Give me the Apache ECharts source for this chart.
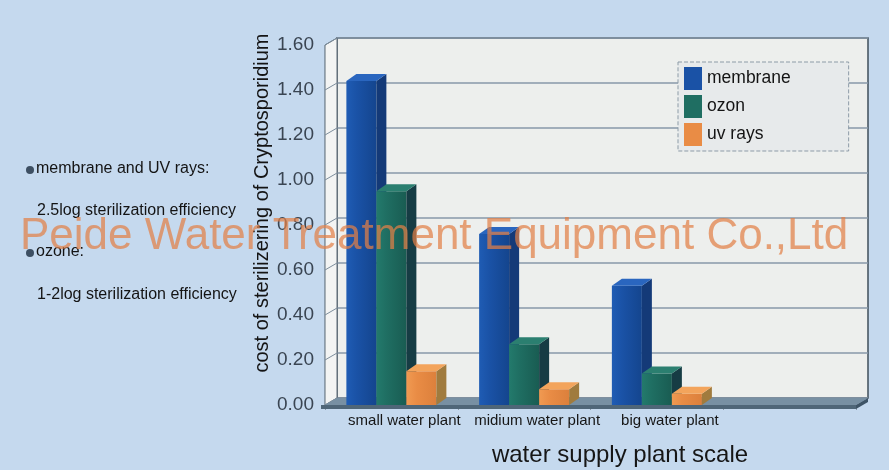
<!DOCTYPE html>
<html>
<head>
<meta charset="utf-8">
<script src="https://cdn.jsdelivr.net/npm/echarts@6/dist/echarts.min.js"></script>
<style>
  html, body { margin: 0; padding: 0; background: #c5d9ee; }
  #main { width: 889px; height: 470px; }
</style>
</head>
<body>
<div id="main"></div>
<script>
// chart data
var categories = ['small water plant', 'midium water plant', 'big water plant', ''];
var membrane = [1.44, 0.76, 0.53];
var ozon = [0.95, 0.27, 0.14];
var uvRays = [0.15, 0.07, 0.05];
var yTicks = [0, 0.2, 0.4, 0.6, 0.8, 1.0, 1.2, 1.4, 1.6];
var notes = ['membrane and UV rays:', '2.5log sterilization efficiency', 'ozone:', '1-2log sterilization efficiency'];

var DX = 12, DY = -7;   // depth of the back wall
var BDX = 10, BDY = -7; // depth of one bar
var FONT = 'Liberation Sans, Arial';

var chart = echarts.init(document.getElementById('main'));

function toPairs(arr) {
  return arr.map(function (v, i) { return [i, v]; });
}

// one 3d bar: front face, side face, top face
function barRenderer(slot, front, side, topc) {
  return function (params, api) {
    var c = api.value(0), v = api.value(1);
    var base = api.coord([c, 0]);
    var top = api.coord([c, v]);
    var band = api.size([1, 0])[0];
    var bw = band * 0.226;
    var x = base[0] - 1.5 * bw + slot * bw;
    var yT = top[1], yB = base[1];
    return {
      type: 'group',
      children: [
        {
          type: 'rect',
          shape: { x: x, y: yT, width: bw, height: yB - yT },
          style: {
            fill: new echarts.graphic.LinearGradient(0, 0, 1, 0, [
              { offset: 0, color: front[0] },
              { offset: 0.35, color: front[1] },
              { offset: 1, color: front[2] }
            ])
          }
        },
        {
          type: 'polygon',
          shape: { points: [[x + bw, yT], [x + bw + BDX, yT + BDY], [x + bw + BDX, yB + BDY], [x + bw, yB]] },
          style: { fill: side }
        },
        {
          type: 'polygon',
          shape: { points: [[x, yT], [x + bw, yT], [x + bw + BDX, yT + BDY], [x + BDX, yT + BDY]] },
          style: { fill: topc }
        }
      ]
    };
  };
}

// floor, left wall and the little side grid lines
function frameRenderer(params, api) {
  var cs = params.coordSys;
  var x0 = cs.x, x1 = cs.x + cs.width, yT = cs.y, yB = cs.y + cs.height;
  var kids = [];
  kids.push({
    type: 'polygon',
    shape: { points: [[x0, yT], [x0 + DX, yT + DY], [x0 + DX, yB + DY], [x0, yB]] },
    style: { fill: '#f3f4f3', stroke: '#5d6b76', lineWidth: 1 }
  });
  yTicks.forEach(function (t) {
    var p = api.coord([0, t]);
    kids.push({
      type: 'line',
      shape: { x1: x0, y1: p[1], x2: x0 + DX, y2: p[1] + DY },
      style: { stroke: '#7d8e9c', lineWidth: 1 }
    });
  });
  kids.push({
    type: 'polygon',
    shape: { points: [[x0, yB], [x1, yB], [x1 + DX, yB + DY], [x0 + DX, yB + DY]] },
    style: { fill: '#7890a3' }
  });
  kids.push({
    type: 'rect',
    shape: { x: x0 - 4, y: yB, width: x1 - x0 + 4, height: 4 },
    style: { fill: '#4f6678' }
  });
  kids.push({
    type: 'polygon',
    shape: { points: [[x1, yB], [x1 + DX, yB + DY], [x1 + DX, yB + DY + 4], [x1, yB + 4]] },
    style: { fill: '#3e5466' }
  });
  return { type: 'group', children: kids };
}

var graphics = [];
notes.forEach(function (t, i) {
  var y = [170, 212, 253, 296][i];
  var bullet = (i % 2 === 0);
  if (bullet) {
    graphics.push({
      type: 'circle', shape: { cx: 30, cy: y, r: 4 },
      style: { fill: '#3d4f62' }
    });
  }
  graphics.push({
    type: 'text', left: bullet ? 36 : 37, top: y - 9,
    style: { text: t, fontSize: 16, fontFamily: FONT, fill: '#141414' }
  });
});
graphics.push({
  type: 'text', x: 262, y: 203, rotation: Math.PI / 2,
  style: {
    text: 'cost of sterilizering of Cryptosporidium', fontSize: 20,
    fontFamily: FONT, fill: '#141414', align: 'center', verticalAlign: 'middle'
  }
});
graphics.push({
  type: 'text', x: 620, y: 455,
  style: {
    text: 'water supply plant scale', fontSize: 24,
    fontFamily: FONT, fill: '#161616', align: 'center', verticalAlign: 'middle'
  }
});
graphics.push({
  type: 'text', x: 20, y: 237, z: 100,
  style: {
    text: 'Peide Water Treatment Equipment Co.,Ltd', fontSize: 44,
    fontFamily: FONT, fill: 'rgba(226,128,70,0.72)', verticalAlign: 'middle'
  }
});

var option = {
  backgroundColor: '#c5d9ee',
  animation: false,
  grid: [
    { left: 325, top: 45, width: 531, height: 360 },
    { left: 337, top: 38, width: 531, height: 360, show: true,
      backgroundColor: '#edefed', borderColor: '#3f4f5b', borderWidth: 1.5 }
  ],
  xAxis: [
    {
      type: 'category', gridIndex: 0, data: categories,
      axisLine: { show: false },
      axisTick: { show: true, length: 5, lineStyle: { color: '#8a98a6' } },
      axisLabel: {
        interval: 0, hideOverlap: false,
        margin: 8, fontSize: 15, color: '#161616', fontFamily: FONT,
        padding: [0, 0, 0, 26]
      }
    },
    { type: 'category', gridIndex: 1, data: categories, show: false }
  ],
  yAxis: [
    {
      type: 'value', gridIndex: 0, min: 0, max: 1.6, interval: 0.2,
      axisLine: { show: true, lineStyle: { color: '#4f5d69', width: 1.2 } },
      axisTick: { show: false },
      splitLine: { show: false },
      axisLabel: {
        margin: 11, fontSize: 19, color: '#3a4552', fontFamily: FONT,
        formatter: function (v) { return v.toFixed(2); }
      }
    },
    {
      type: 'value', gridIndex: 1, min: 0, max: 1.6, interval: 0.2,
      axisLine: { show: false }, axisTick: { show: false }, axisLabel: { show: false },
      splitLine: { show: true, lineStyle: { color: '#8799a8', width: 1.5 } }
    }
  ],
  legend: {
    orient: 'vertical', left: 678, top: 62,
    data: ['membrane', 'ozon', 'uv rays'],
    icon: 'rect', itemWidth: 18, itemHeight: 23, itemGap: 5,
    backgroundColor: '#e7eaeb', borderColor: '#8d9ba7', borderWidth: 1, borderType: 'dashed',
    padding: [5, 58, 5, 6],
    textStyle: { fontSize: 17.5, color: '#141414', fontFamily: FONT }
  },
  graphic: graphics,
  series: [
    {
      type: 'custom', name: 'frame', xAxisIndex: 0, yAxisIndex: 0,
      data: [[0, 0]], renderItem: frameRenderer, silent: true, z: 1
    },
    {
      type: 'custom', name: 'membrane', xAxisIndex: 0, yAxisIndex: 0,
      data: toPairs(membrane), itemStyle: { color: '#1a52a6' }, z: 2,
      renderItem: barRenderer(0, ['#1f5cb4', '#1a52a6', '#14458e'], '#143a78', '#2a66bf')
    },
    {
      type: 'custom', name: 'ozon', xAxisIndex: 0, yAxisIndex: 0,
      data: toPairs(ozon), itemStyle: { color: '#1f6e62' }, z: 3,
      renderItem: barRenderer(1, ['#237a6c', '#1f6e62', '#195c52'], '#163c44', '#2b7f70')
    },
    {
      type: 'custom', name: 'uv rays', xAxisIndex: 0, yAxisIndex: 0,
      data: toPairs(uvRays), itemStyle: { color: '#e98c45' }, z: 4,
      renderItem: barRenderer(2, ['#f09a52', '#e98c45', '#dc803c'], '#a07b3e', '#f3a45c')
    }
  ]
};

chart.setOption(option);
</script>
</body>
</html>
